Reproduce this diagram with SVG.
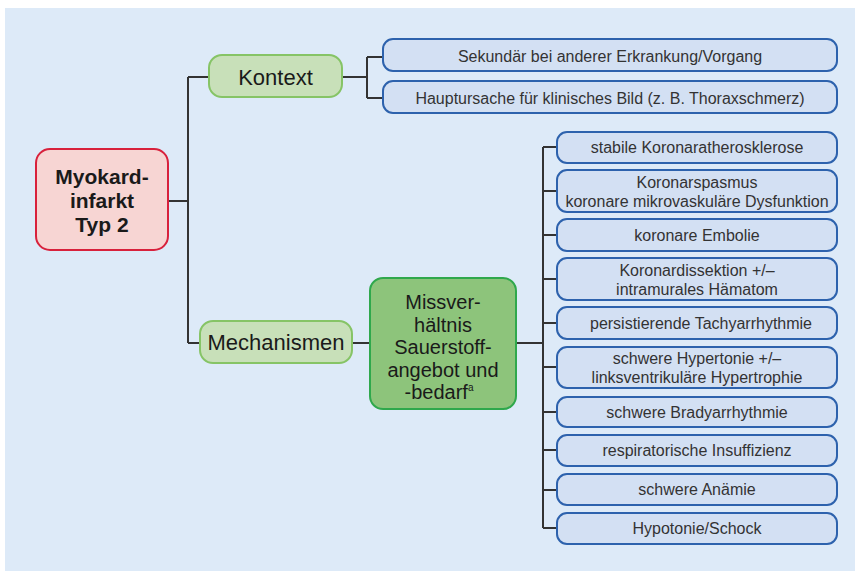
<svg xmlns="http://www.w3.org/2000/svg" width="855" height="571" viewBox="0 0 855 571">
<style>
text{font-family:"Liberation Sans",Arial,sans-serif;text-anchor:middle;}
.leaf rect{fill:#d3e0f3;stroke:#2d62ad;stroke-width:2;}
.leaf text{font-size:16px;fill:#333;}
.mid rect{fill:#c8e0b9;stroke:#86c466;stroke-width:2;}
.mid text{font-size:22px;fill:#1a1a1a;}
.conn path{fill:none;stroke:#333;stroke-width:2;}
</style>
<rect x="5" y="8" width="850" height="563" fill="#ddeaf8"/>
<g class="conn">
<path d="M168,201 H188 M188,77 V343 M188,77 H209 M188,343 H200"/>
<path d="M342,77 H367 M367,57 V98 M367,57 H383 M367,98 H383"/>
<path d="M352,343 H370 M516,343 H543 M543,147 V528"/>
<path d="M543,147 H557 M543,191 H557 M543,235 H557 M543,279 H557 M543,323 H557 M543,367 H557 M543,412 H557 M543,450 H557 M543,490 H557 M543,528 H557"/>
</g>
<g id="root">
<rect x="36" y="149" width="132" height="101" rx="14" fill="#f7d5d3" stroke="#d8213c" stroke-width="2"/>
<text font-size="21" font-weight="bold" fill="#1a1a1a"><tspan x="102" y="184">Myokard-</tspan><tspan x="102" y="208">infarkt</tspan><tspan x="102" y="232">Typ 2</tspan></text>
</g>
<g id="kontext" class="mid">
<rect x="209" y="55" width="133" height="42" rx="13"/>
<text x="275.5" y="85">Kontext</text>
</g>
<g id="mechanismen" class="mid">
<rect x="200" y="321" width="152" height="42" rx="13"/>
<text x="276" y="350">Mechanismen</text>
</g>
<g id="missverhaeltnis">
<rect x="370" y="278" width="146" height="131" rx="13" fill="#8dc47b" stroke="#2fa84c" stroke-width="2"/>
<text font-size="20" fill="#1a1a1a"><tspan x="443" y="309">Missver-</tspan><tspan x="443" y="332">hältnis</tspan><tspan x="443" y="354">Sauerstoff-</tspan><tspan x="443" y="377">angebot und</tspan><tspan x="439" y="399">-bedarf</tspan><tspan dy="-8" font-size="10">a</tspan></text>
</g>
<g id="k1" class="leaf"><rect x="383" y="39" width="454" height="32" rx="10"/><text x="610" y="62">Sekundär bei anderer Erkrankung/Vorgang</text></g>
<g id="k2" class="leaf"><rect x="383" y="81" width="454" height="32" rx="10"/><text x="610" y="104">Hauptursache für klinisches Bild (z. B. Thoraxschmerz)</text></g>
<g id="m1" class="leaf"><rect x="557" y="132" width="280" height="31" rx="10"/><text x="697" y="153">stabile Koronaratherosklerose</text></g>
<g id="m2" class="leaf"><rect x="557" y="170" width="280" height="42" rx="10"/><text><tspan x="697" y="188">Koronarspasmus</tspan><tspan x="697" y="207">koronare mikrovaskuläre Dysfunktion</tspan></text></g>
<g id="m3" class="leaf"><rect x="557" y="219" width="280" height="32" rx="10"/><text x="697" y="241">koronare Embolie</text></g>
<g id="m4" class="leaf"><rect x="557" y="258" width="280" height="42" rx="10"/><text><tspan x="697" y="276">Koronardissektion +/–</tspan><tspan x="697" y="295">intramurales Hämatom</tspan></text></g>
<g id="m5" class="leaf"><rect x="557" y="307" width="280" height="32" rx="10"/><text x="701" y="329">persistierende Tachyarrhythmie</text></g>
<g id="m6" class="leaf"><rect x="557" y="347" width="280" height="41" rx="10"/><text><tspan x="697" y="364">schwere Hypertonie +/–</tspan><tspan x="697" y="383">linksventrikuläre Hypertrophie</tspan></text></g>
<g id="m7" class="leaf"><rect x="557" y="397" width="280" height="30" rx="10"/><text x="697" y="418">schwere Bradyarrhythmie</text></g>
<g id="m8" class="leaf"><rect x="557" y="435" width="280" height="31" rx="10"/><text x="697" y="456">respiratorische Insuffizienz</text></g>
<g id="m9" class="leaf"><rect x="557" y="474" width="280" height="31" rx="10"/><text x="697" y="495">schwere Anämie</text></g>
<g id="m10" class="leaf"><rect x="557" y="513" width="280" height="31" rx="10"/><text x="697" y="534">Hypotonie/Schock</text></g>
</svg>
